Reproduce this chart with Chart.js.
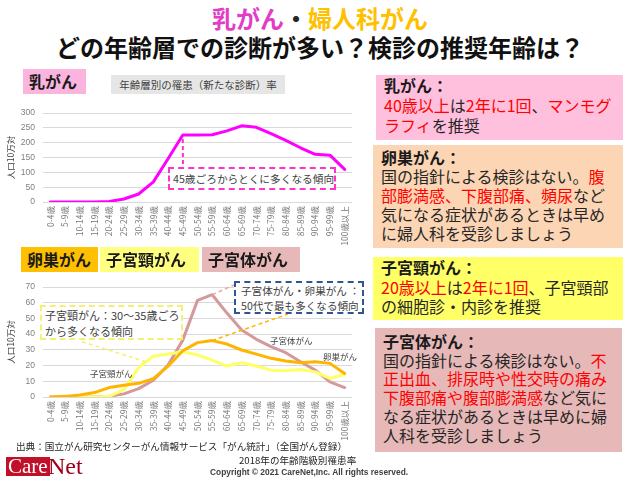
<!DOCTYPE html>
<html lang="ja">
<head>
<meta charset="utf-8">
<script src="https://cdn.jsdelivr.net/npm/chart.js@4.4.1/dist/chart.umd.min.js"></script>
<style>
  body { margin: 0; background: #fff; }
  #page { position: relative; width: 640px; height: 480px; overflow: hidden; font-family: "Noto Sans CJK JP", "Noto Sans", sans-serif; color: #262626; }
  .abs { position: absolute; white-space: nowrap; }
  .title { left: 0; width: 640px; text-align: center; font-size: 24px; font-weight: bold; line-height: 26px; }
  .tag { font-size: 16px; font-weight: bold; line-height: 25px; padding-left: 6px; box-sizing: border-box; color: #1a1a1a; }
  .panel { font-size: 16px; line-height: 19px; padding-left: 8px; box-sizing: border-box; color: #262626; }
  .panel b { color: #1a1a1a; }
  .red { color: #ff0000; }
  .note { font-size: 10.6px; line-height: 15px; color: #404040; box-sizing: border-box; background: #fff; }
  .lbl { font-size: 8.5px; color: #404040; }
  canvas { position: absolute; }
</style>
</head>
<body>
<div id="page">
  <canvas id="topChart" width="365" height="160" style="left:0;top:100px"></canvas>
  <canvas id="bottomChart" width="365" height="175" style="left:0;top:270px"></canvas>

  <div class="abs title" style="top:5px"><span style="color:#e33cc6">乳がん</span>・<span style="color:#ffc000">婦人科がん</span></div>
  <div class="abs title" style="top:34px;color:#111">どの年齢層での診断が多い？検診の推奨年齢は？</div>

  <div class="abs tag" style="left:23px;top:69px;width:63px;height:25px;background:#fbb4de">乳がん</div>
  <div class="abs" style="left:111px;top:75px;width:174px;height:19px;background:#e7e6e6;font-size:10.5px;line-height:19px;text-align:center;color:#404040">年齢層別の罹患（新たな診断）率</div>

  <div class="abs note" style="left:168px;top:167px;width:168px;height:23px;border:2px dashed #ff33cc;line-height:19px;font-size:10.7px;padding-left:3px">45歳ごろからとくに多くなる傾向</div>

  <div class="abs tag" style="left:21px;top:247px;width:77px;height:25px;background:#ffc000">卵巣がん</div>
  <div class="abs tag" style="left:100px;top:247px;width:99px;height:25px;background:#ffff80">子宮頸がん</div>
  <div class="abs tag" style="left:202px;top:247px;width:98px;height:25px;background:#e6b8b7">子宮体がん</div>

  <div class="abs note" style="left:40px;top:305px;width:143px;height:35px;border:2px dashed #f5f070;padding:1px 0 0 3px;line-height:15.5px;font-size:11px">子宮頸がん：30～35歳ごろ<br>から多くなる傾向</div>
  <div class="abs note" style="left:234px;top:281px;width:130px;height:33px;border:2px dashed #2f5597;padding:0 0 0 5px">子宮体がん・卵巣がん ：<br>50代で最も多くなる傾向</div>

  <div class="abs lbl" style="left:90px;top:367px">子宮頸がん</div>
  <div class="abs lbl" style="left:270px;top:334px">子宮体がん</div>
  <div class="abs lbl" style="left:323px;top:350px">卵巣がん</div>

  <div class="abs panel" style="left:376px;top:75px;width:247px;height:65px;background:#ffc0dd;line-height:20px">
    <b>乳がん：</b><br>
    <span class="red">40歳以上</span>は<span class="red">2年に1回</span>、<span class="red">マンモグ</span><br>
    <span class="red">ラフィ</span>を推奨
  </div>
  <div class="abs panel" style="left:373px;top:145px;width:250px;height:103px;background:#fcd5b4;padding-top:3px">
    <b>卵巣がん：</b><br>
    国の指針による検診はない。<span class="red">腹</span><br>
    <span class="red">部膨満感、下腹部痛、頻尿</span>など<br>
    気になる症状があるときは早め<br>
    に婦人科を受診しましょう
  </div>
  <div class="abs panel" style="left:373px;top:257px;width:250px;height:63px;background:#ffff66;padding-top:1px;line-height:19.5px">
    <b>子宮頸がん：</b><br>
    <span class="red">20歳以上</span>は<span class="red">2年に1回</span>、子宮頸部<br>
    の細胞診・内診を推奨
  </div>
  <div class="abs panel" style="left:375px;top:328px;width:247px;height:124px;background:#e6b8b7;padding-top:4px;line-height:18.7px">
    <b>子宮体がん：</b><br>
    国の指針による検診はない。<span class="red">不</span><br>
    <span class="red">正出血、排尿時や性交時の痛み</span><br>
    <span class="red">下腹部痛や腹部膨満感</span>など気に<br>
    なる症状があるときは早めに婦<br>
    人科を受診しましょう
  </div>

  <div class="abs" style="left:16px;top:440px;font-size:9.6px;line-height:13px;color:#262626">出典：国立がん研究センターがん情報サービス「がん統計」（全国がん登録）</div>
  <div class="abs" style="left:239px;top:454px;font-size:9.6px;line-height:13px;color:#262626">2018年の年齢階級別罹患率</div>
  <div class="abs" style="left:210px;top:467px;font-size:8.4px;line-height:11px;font-weight:bold;font-family:'Liberation Sans',sans-serif;color:#404040">Copyright © 2021 CareNet,Inc. All rights reserved.</div>

  <div class="abs" style="left:6px;top:457px;height:19px;padding:0 2px;background:#c0102a;color:#fff;font-family:'Liberation Serif',serif;font-size:21px;line-height:19px">Care</div>
  <div class="abs" style="left:48px;top:455px;color:#a00018;font-family:'Liberation Serif',serif;font-size:24px;line-height:22px">Net</div>
</div>

<script>
// データ
const ageLabels = ['0-4歳','5-9歳','10-14歳','15-19歳','20-24歳','25-29歳','30-34歳','35-39歳','40-44歳','45-49歳','50-54歳','55-59歳','60-64歳','65-69歳','70-74歳','75-79歳','80-84歳','85-89歳','90-94歳','95-99歳','100歳以上'];
const breastRate = [0,0,0,0,2,10,27,68,146,226,226,227,240,257,252,231,208,183,161,158,110];
const ovarianRate = [0,0.4,1.3,2.8,6,7.5,8.7,11.7,19.6,29.4,34.6,35.9,33.7,29.9,27.3,24.6,22.9,21.8,22.4,21.4,15];
const cervicalRate = [0,0,0,0,0.4,4.7,18.8,26,27.3,28.8,26.7,23.5,19.7,21.8,19.7,17.1,16.7,17.5,16,11.8,14.5];
const corpusRate = [0,0,0,0,0.5,2,5.3,10.7,20.3,36.2,61.5,65.1,53.4,42.7,36.7,32,28.2,22.4,17.1,9.6,6];
const topTicks = [0,50,100,150,200,250,300];
const bottomTicks = [0,10,20,30,40,50,60,70];
const yTitle = '人口10万対';

// 引き出し線 (キャンバス上の座標に変換)
const leaderLines = {
    id: 'leaderLines',
    afterDatasetsDraw(chart, args, opts) {
        const ctx = chart.ctx;
        const x = chart.scales.x, y = chart.scales.y;
        opts.lines.forEach(l => {
            const i = Math.floor(l.index);
            const f = l.index - i;
            const v = f ? l.data[i] * (1 - f) + l.data[i + 1] * f : l.data[i];
            ctx.save();
            ctx.strokeStyle = l.color;
            ctx.lineWidth = l.width;
            ctx.setLineDash(l.dash);
            ctx.beginPath();
            ctx.moveTo(x.getPixelForValue(l.index), y.getPixelForValue(v) + (l.gap || 0));
            ctx.lineTo(l.toX - opts.offsetX, l.toY - opts.offsetY);
            ctx.stroke();
            ctx.restore();
        });
    }
};

function baseOptions(max, step, plotTop, xHeight, ticks) {
    return {
        responsive: false,
        animation: false,
        layout: { padding: { top: plotTop, right: 13, left: 0, bottom: 0 } },
        plugins: { legend: { display: false }, tooltip: { enabled: false } },
        elements: { point: { radius: 0 }, line: { tension: 0, borderCapStyle: 'round', borderJoinStyle: 'round' } },
        scales: {
            x: {
                offset: true,
                grid: { display: false, drawTicks: false },
                border: { display: false },
                ticks: { autoSkip: false, minRotation: 90, maxRotation: 90, padding: 4, color: '#7a7a7a', font: { size: 8.5, family: 'Noto Sans CJK JP' } },
                afterFit: s => { s.height = xHeight; }
            },
            y: {
                min: 0, max: max,
                afterBuildTicks: s => { s.ticks = ticks.map(v => ({ value: v })); },
                grid: { color: '#d9d9d9', drawTicks: false },
                border: { display: false },
                ticks: { stepSize: step, padding: 8, color: '#7f7f7f', font: { size: 8.5, family: 'Liberation Sans' } },
                title: { display: true, text: yTitle, color: '#404040', padding: { top: 6, bottom: 0 }, font: { size: 8.5, family: 'Noto Sans CJK JP' } },
                afterFit: s => { s.width = 43; }
            }
        }
    };
}

// 乳がん
const topOpts = baseOptions(300, 50, 9, 58, topTicks);
topOpts.plugins.leaderLines = {
    offsetX: 0, offsetY: 100,
    lines: [{ index: 9, data: breastRate, gap: 4, toX: 183, toY: 167, color: '#ff33cc', width: 2, dash: [4, 3] }]
};
new Chart(document.getElementById('topChart'), {
    type: 'line',
    data: {
        labels: ageLabels,
        datasets: [{ label: '乳がん', data: breastRate, borderColor: '#ff00ff', borderWidth: 3 }]
    },
    options: topOpts,
    plugins: [leaderLines]
});

// 婦人科がん
const bottomOpts = baseOptions(70, 10, 17, 48, bottomTicks);
bottomOpts.plugins.leaderLines = {
    offsetX: 0, offsetY: 270,
    lines: [
        { index: 6.5, data: cervicalRate, toX: 80, toY: 341, color: '#f5f070', width: 1.5, dash: [4, 3] },
        { index: 11, data: corpusRate, toX: 234, toY: 285, color: '#e8a8a8', width: 1.5, dash: [4, 3] },
        { index: 11, data: ovarianRate, toX: 288, toY: 314, color: '#ffb400', width: 1.5, dash: [4, 3] }
    ]
};
new Chart(document.getElementById('bottomChart'), {
    type: 'line',
    data: {
        labels: ageLabels,
        datasets: [
            { label: '卵巣がん', data: ovarianRate, borderColor: '#ffb400', borderWidth: 3 },
            { label: '子宮頸がん', data: cervicalRate, borderColor: '#ffff66', borderWidth: 3 },
            { label: '子宮体がん', data: corpusRate, borderColor: '#d4999a', borderWidth: 3 }
        ]
    },
    options: bottomOpts,
    plugins: [leaderLines]
});
</script>
</body>
</html>
